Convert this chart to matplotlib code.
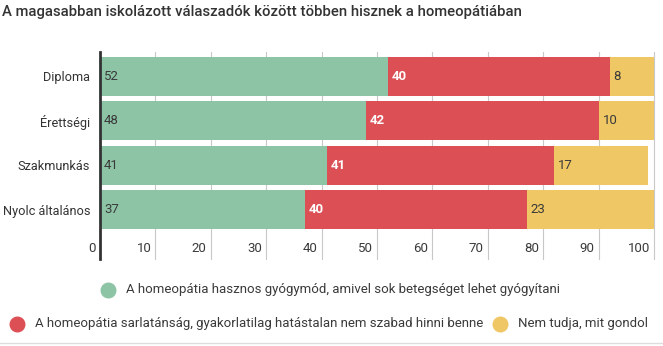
import matplotlib.pyplot as plt
from matplotlib.lines import Line2D
from matplotlib.transforms import ScaledTranslation, blended_transform_factory
import numpy as np

plt.rcParams['font.family'] = ['Roboto', 'DejaVu Sans']

title = 'A magasabban iskolázott válaszadók között többen hisznek a homeopátiában'
categories = ['Diploma', 'Érettségi', 'Szakmunkás', 'Nyolc általános']
hasznos = [52, 48, 41, 37]
sarlatan = [40, 42, 41, 40]
nem_tudja = [8, 10, 17, 23]
series_names = [
    'A homeopátia hasznos gyógymód, amivel sok betegséget lehet gyógyítani',
    'A homeopátia sarlatánság, gyakorlatilag hatástalan nem szabad hinni benne',
    'Nem tudja, mit gondol',
]
xticks = [0, 10, 20, 30, 40, 50, 60, 70, 80, 90, 100]

colors = ['#8dc4a6', '#dc5055', '#efc865']
text_dark = '#3a3a3a'

W, H = 663, 346
fig = plt.figure(figsize=(W / 100, H / 100), dpi=100)
ax = fig.add_axes([100 / W, 1 - 232 / H, 554 / W, 178 / H])

y = np.arange(len(categories))
left = np.zeros(len(categories))
series = [hasznos, sarlatan, nem_tudja]
for i, vals in enumerate(series):
    vals = np.array(vals)
    ax.barh(y, vals, left=left, height=0.88, color=colors[i], zorder=2)
    for yy, l, v in zip(y, left, vals):
        if i == 1:
            ax.text(l + 0.7, yy, str(v), va='center', ha='left', fontsize=9.5,
                    color='white', fontweight='bold', zorder=3)
        else:
            ax.text(l + 0.7, yy, str(v), va='center', ha='left', fontsize=9.5,
                    color=text_dark, zorder=3)
    left = left + vals

ax.set_xlim(0, 100)
ax.set_ylim(len(categories) - 0.5, -0.5)
ax.set_yticks(y)
ax.set_yticklabels(categories, fontsize=9.2, color='#333333')
ax.tick_params(axis='y', length=0, pad=7)

# x tick labels sit to the left of their grid line
ax.set_xticks(xticks)
ax.set_xticklabels([str(t) for t in xticks], fontsize=9.5, color=text_dark, ha='right')
ax.tick_params(axis='x', length=0, pad=7)
for lab in ax.get_xticklabels():
    lab.set_transform(lab.get_transform() + ScaledTranslation(-4 / 100, 0, fig.dpi_scale_trans))

for s in ax.spines.values():
    s.set_visible(False)

# grid lines run down through the tick label row
trans = blended_transform_factory(ax.transData, ax.transAxes)
for t in xticks[1:]:
    ax.add_line(Line2D([t, t], [-0.15, 1.01], transform=trans, color='#c8c8c8',
                       lw=0.8, zorder=1, clip_on=False))
ax.add_line(Line2D([0, 0], [-0.15, 1.01], transform=trans, color='#333333',
                   lw=2, zorder=4, clip_on=False))

fig.text(2 / W, 1 - 12 / H, title, fontsize=10.7, color='#333333',
         fontweight='medium', va='center', ha='left')

# legend
legend_rows = [
    [(108, 290, 0)],
    [(17, 324, 1), (500, 324, 2)],
]
for row in legend_rows:
    for px, py, k in row:
        fig.add_artist(Line2D([px / W], [1 - py / H], marker='o', markersize=10.5,
                              color=colors[k], lw=0, transform=fig.transFigure))
        fig.text((px + 18) / W, 1 - py / H, series_names[k], fontsize=9.5,
                 color=text_dark, va='center', ha='left')

fig.add_artist(Line2D([0, 1], [1 - 343 / H] * 2, color='#dddddd', lw=1,
                      transform=fig.transFigure))

fig.savefig('out.png', dpi=100)
